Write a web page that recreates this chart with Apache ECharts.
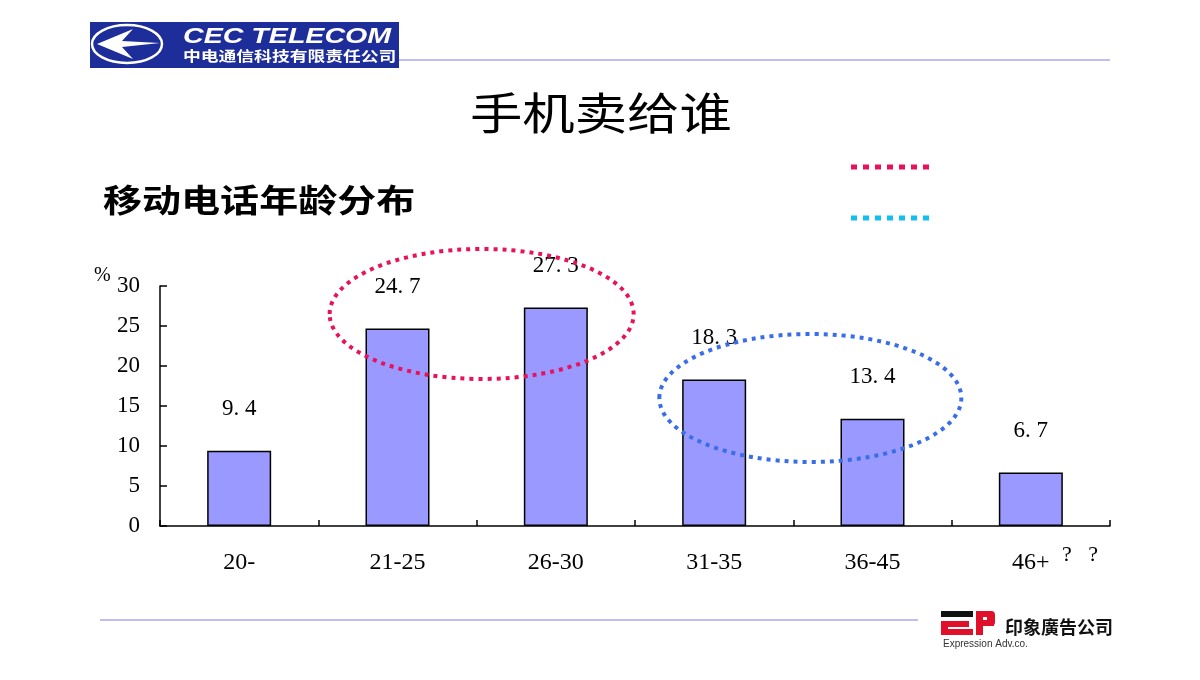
<!DOCTYPE html>
<html><head><meta charset="utf-8">
<script src="https://cdn.jsdelivr.net/npm/echarts@6/dist/echarts.min.js"></script>
<style>html,body{margin:0;padding:0;background:#fff}#c{width:1200px;height:680px}</style>
</head><body><div id="c"></div>
<script>
const categories = ['20-', '21-25', '26-30', '31-35', '36-45', '46+'];
const values = [9.4, 24.7, 27.3, 18.3, 13.4, 6.7];
const valueLabels = ['9.4', '24.7', '27.3', '18.3', '13.4', '6.7'];
const yTicks = [0, 5, 10, 15, 20, 25, 30];

const serif = '"Liberation Serif","DejaVu Serif",serif';
const sans = '"Noto Sans CJK SC","Noto Sans",sans-serif';
const chart = echarts.init(document.getElementById('c'));

const option = {
  backgroundColor: '#fff',
  animation: false,
  grid: { left: 160, right: 90, top: 286, bottom: 154 },
  xAxis: {
    type: 'category', data: categories, boundaryGap: true,
    axisLine: { lineStyle: { color: '#000', width: 1.5 } },
    axisTick: { show: true, inside: true, length: 6, lineStyle: { color: '#000', width: 1.5 } },
    axisLabel: { color: '#000', fontFamily: serif, fontSize: 24, margin: 25 }
  },
  yAxis: {
    type: 'value', min: 0, max: 30, interval: 5,
    splitLine: { show: false },
    axisLine: { show: true, lineStyle: { color: '#000', width: 1.5 } },
    axisTick: { show: true, inside: true, length: 7, lineStyle: { color: '#000', width: 1.5 } },
    axisLabel: { color: '#000', fontFamily: serif, fontSize: 23, margin: 20,
      formatter: v => yTicks.includes(v) ? String(v) : '' }
  },
  series: [{
    type: 'bar', data: values, barWidth: 64,
    itemStyle: { color: '#9999ff', borderColor: '#000', borderWidth: 1.5 },
    label: { show: true, position: 'top', distance: 30, color: '#000', fontFamily: serif, fontSize: 23,
      formatter: p => valueLabels[p.dataIndex].replace('.', '. ') }
  }]
};
chart.setOption(option);

// annotation ellipses anchored to data positions
const pA = chart.convertToPixel({ seriesIndex: 0 }, [1, 24.7]);
const pB = chart.convertToPixel({ seriesIndex: 0 }, [2, 27.3]);
const pC = chart.convertToPixel({ seriesIndex: 0 }, [3, 18.3]);
const pD = chart.convertToPixel({ seriesIndex: 0 }, [4, 13.4]);
const cx1 = (pA[0] + pB[0]) / 2 + 5, cx2 = (pC[0] + pD[0]) / 2 + 17;

chart.setOption({
  graphic: [
    // header logo
    { type: 'rect', shape: { x: 90, y: 22, width: 309, height: 46 }, style: { fill: '#1d2d9a' } },
    { type: 'ellipse', shape: { cx: 127, cy: 44, rx: 35, ry: 19 }, style: { fill: 'none', stroke: '#fff', lineWidth: 2.5 } },
    { type: 'polygon', shape: { points: [[97, 44], [133, 29], [122, 41], [160, 43], [122, 47], [133, 59]] }, style: { fill: '#fff' } },
    { type: 'text', x: 183, y: 26, scaleX: 1.3, style: { text: 'CEC TELECOM', fill: '#fff', font: 'italic bold 22px "Liberation Sans", Arial, sans-serif' } },
    { type: 'text', x: 183, y: 49, scaleX: 1.27, style: { text: '中电通信科技有限责任公司', fill: '#fff', font: 'bold 14px ' + sans } },
    { type: 'line', shape: { x1: 399, y1: 60, x2: 1110, y2: 60 }, style: { stroke: '#7f7fe0', lineWidth: 1.2 } },
    // titles
    { type: 'text', x: 470, y: 113, scaleX: 1.19, style: { text: '手机卖给谁', fill: '#000', font: '44px ' + sans, textAlign: 'left', textVerticalAlign: 'middle' } },
    { type: 'text', x: 103, y: 200, scaleX: 1.22, style: { text: '移动电话年龄分布', fill: '#000', font: 'bold 32px ' + sans, textVerticalAlign: 'middle' } },
    // legend-like dotted lines
    { type: 'line', shape: { x1: 851, y1: 167, x2: 932, y2: 167 }, style: { stroke: '#e8125c', lineWidth: 5, lineDash: [6, 6] } },
    { type: 'line', shape: { x1: 851, y1: 218, x2: 932, y2: 218 }, style: { stroke: '#10c0f0', lineWidth: 5, lineDash: [6, 6] } },
    // axis unit and ??
    { type: 'text', x: 94, y: 276, style: { text: '%', fill: '#000', font: '20px ' + serif, textVerticalAlign: 'middle' } },
    { type: 'text', x: 1062, y: 555, style: { text: '?   ?', fill: '#000', font: '22px ' + serif, textVerticalAlign: 'middle' } },
    // ellipses
    { type: 'ellipse', z: 10, shape: { cx: cx1, cy: 314, rx: 152, ry: 65 }, style: { fill: 'none', stroke: '#e8125c', lineWidth: 4, lineDash: [4, 5] } },
    { type: 'ellipse', z: 10, shape: { cx: cx2, cy: 398, rx: 151, ry: 64 }, style: { fill: 'none', stroke: '#3a6ee8', lineWidth: 4, lineDash: [4, 5] } },
    // footer
    { type: 'line', shape: { x1: 100, y1: 620, x2: 918, y2: 620 }, style: { stroke: '#7f7fe0', lineWidth: 1.2 } },
    // EP logo
    { type: 'rect', shape: { x: 941, y: 611, width: 32, height: 6 }, style: { fill: '#111' } },
    { type: 'rect', shape: { x: 941, y: 621, width: 28, height: 6 }, style: { fill: '#e0102a' } },
    { type: 'rect', shape: { x: 941, y: 629, width: 32, height: 6 }, style: { fill: '#e0102a' } },
    { type: 'rect', shape: { x: 941, y: 621, width: 7, height: 14 }, style: { fill: '#e0102a' } },
    { type: 'rect', shape: { x: 976, y: 611, width: 18, height: 6, r: [0, 4, 0, 0] }, style: { fill: '#e0102a' } },
    { type: 'rect', shape: { x: 987, y: 611, width: 8, height: 15, r: [0, 4, 4, 0] }, style: { fill: '#e0102a' } },
    { type: 'rect', shape: { x: 976, y: 620, width: 18, height: 6 }, style: { fill: '#e0102a' } },
    { type: 'rect', shape: { x: 976, y: 611, width: 7, height: 24 }, style: { fill: '#e0102a' } },
    { type: 'text', x: 1005, y: 627, style: { text: '印象廣告公司', fill: '#111', font: 'bold 18px ' + sans, textVerticalAlign: 'middle' } },
    { type: 'text', x: 943, y: 644, style: { text: 'Expression Adv.co.', fill: '#333', font: '10px "Liberation Sans", Arial, sans-serif', textVerticalAlign: 'middle' } }
  ]
});
</script></body></html>
